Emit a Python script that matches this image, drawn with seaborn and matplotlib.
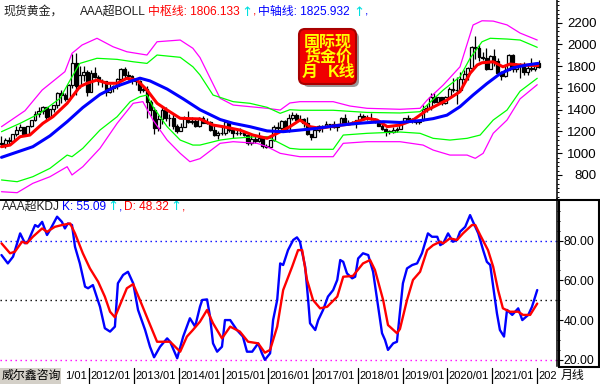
import matplotlib
matplotlib.use("Agg")
import matplotlib.pyplot as plt
import seaborn as sns
import pandas as pd
from matplotlib.transforms import IdentityTransform, blended_transform_factory, Affine2D, Bbox
from matplotlib.patches import Rectangle, FancyBboxPatch
from matplotlib.lines import Line2D

# ---------------- data: monthly spot gold, Jan 2010 (month 0) .. Jan 2022 (month 144)
opens = [1096,1081,1118,1113,1179,1212,1244,1181,1248,1307,1357,1386,
         1421,1332,1411,1439,1556,1536,1500,1628,1826,1620,1722,1746,
         1564,1738,1697,1668,1664,1561,1604,1614,1687,1773,1719,1712,
         1675,1663,1578,1595,1472,1393,1234,1313,1395,1327,1323,1253,
         1202,1244,1326,1283,1296,1250,1327,1282,1287,1209,1172,1183,
         1184,1283,1213,1183,1184,1190,1172,1095,1132,1115,1142,1065,
         1061,1118,1238,1235,1293,1215,1322,1351,1309,1316,1277,1173,
         1151,1211,1248,1249,1268,1269,1242,1269,1322,1280,1271,1275,
         1303,1345,1318,1325,1315,1299,1253,1224,1201,1192,1215,1222,
         1282,1321,1313,1292,1284,1305,1409,1413,1520,1472,1513,1464,
         1517,1589,1585,1577,1687,1730,1781,1975,1968,1886,1879,1777,
         1898,1847,1734,1708,1769,1907,1770,1814,1814,1743,1783,1774,
         1829]
highs = [1162,1140,1145,1181,1249,1265,1245,1248,1307,1388,1424,1431,
         1424,1411,1447,1566,1577,1556,1632,1913,1921,1803,1803,1764,
         1764,1791,1715,1678,1668,1640,1630,1692,1788,1796,1755,1723,
         1694,1677,1617,1616,1488,1424,1348,1434,1424,1361,1362,1267,
         1280,1345,1392,1331,1315,1332,1345,1323,1292,1256,1208,1239,
         1307,1283,1224,1224,1232,1205,1175,1170,1157,1191,1142,1088,
         1123,1263,1283,1303,1304,1362,1375,1367,1352,1324,1337,1181,
         1220,1264,1261,1295,1272,1296,1272,1331,1357,1306,1298,1307,
         1366,1361,1356,1366,1326,1309,1266,1235,1214,1243,1237,1284,
         1326,1347,1324,1310,1306,1439,1453,1555,1557,1518,1516,1523,
         1611,1689,1704,1748,1765,1789,1984,2075,1992,1933,1966,1906,
         1959,1872,1755,1798,1913,1917,1832,1833,1837,1814,1877,1831,
         1853]
lows = [1058,1045,1088,1111,1160,1201,1155,1175,1240,1300,1330,1360,
        1308,1325,1381,1420,1462,1478,1480,1604,1535,1600,1668,1523,
        1563,1688,1627,1613,1527,1556,1564,1588,1687,1693,1673,1635,
        1625,1555,1562,1321,1338,1180,1208,1271,1292,1251,1227,1187,
        1202,1238,1277,1268,1240,1240,1280,1273,1206,1161,1131,1170,
        1167,1191,1142,1170,1170,1162,1077,1080,1098,1106,1052,1046,
        1061,1110,1208,1207,1200,1199,1310,1301,1302,1241,1171,1122,
        1146,1199,1194,1241,1214,1236,1205,1265,1271,1261,1265,1236,
        1303,1307,1303,1310,1282,1251,1211,1160,1180,1182,1196,1221,
        1276,1307,1281,1266,1267,1300,1381,1400,1459,1459,1445,1455,
        1517,1563,1451,1567,1671,1671,1757,1863,1849,1860,1765,1776,
        1803,1717,1677,1705,1765,1751,1751,1688,1722,1721,1759,1753,
        1780]
closes = [1081,1118,1113,1179,1212,1244,1181,1248,1307,1357,1386,1421,
          1332,1411,1439,1556,1536,1500,1628,1826,1620,1722,1746,1564,
          1738,1697,1668,1664,1561,1604,1614,1687,1773,1719,1712,1675,
          1663,1578,1595,1472,1393,1234,1313,1395,1327,1323,1253,1202,
          1244,1326,1283,1296,1250,1327,1282,1287,1209,1172,1183,1184,
          1283,1213,1183,1184,1190,1172,1095,1132,1115,1142,1065,1061,
          1118,1238,1235,1293,1215,1322,1351,1309,1316,1277,1173,1151,
          1211,1248,1249,1268,1269,1242,1269,1322,1280,1271,1275,1303,
          1345,1318,1325,1315,1299,1253,1224,1201,1192,1215,1222,1282,
          1321,1313,1292,1284,1305,1409,1413,1520,1472,1513,1464,1517,
          1589,1585,1577,1687,1730,1781,1975,1968,1886,1879,1777,1898,
          1847,1734,1708,1769,1907,1770,1814,1814,1743,1783,1774,1829,
          1797]

# BOLL lines (month, value)
red_m = [0,2.3,5.0,7.6,11.1,13.8,17.6,21.0,22.9,25.6,28.3,31.0,33.6,36.3,39.0,41.7,44.4,47.9,53.2,56.7,
         59.4,63.9,67.4,71.2,73.9,77.3,80.0,82.7,85.4,88.9,93.4,98.0,100.7,103.4,106.8,110.3,114.1,116.8,119.4,122.9,
         125.6,127.5,128.8,131.8,134.4,136.3,139.0,143.8]
red_v = [1060,1075,1152,1167,1275,1336,1459,1612,1643,1673,1643,1643,1689,1673,1581,1459,1397,1321,1315,1259,
         1244,1213,1167,1137,1183,1244,1305,1244,1229,1250,1268,1321,1305,1244,1259,1305,1397,1443,1489,1566,
         1735,1811,1832,1841,1795,1820,1811,1806]
blue_m = [0,8.4,13.0,17.6,21.8,26.4,30.4,34.5,37.1,39.8,44.4,48.7,53.2,58.6,62.1,66.6,71.2,75.5,80.0,84.6,
          88.9,93.4,98.0,102.3,106.8,112.2,115.7,119.4,122.9,126.4,130.1,133.6,137.1,140.9,143.8]
blue_v = [962,1060,1160,1290,1420,1540,1610,1660,1690,1665,1590,1500,1400,1310,1275,1244,1205,1198,1213,1229,
          1250,1268,1281,1290,1283,1300,1318,1350,1428,1535,1640,1730,1785,1812,1826]
gu_m = [0,5.0,10.3,15.7,18.4,21.0,25.6,31.0,35.3,39.0,41.7,47.9,51.3,53.2,56.7,62.1,66.6,71.2,74.7,77.3,
        80.0,88.9,93.4,98.0,106.8,112.2,114.1,118.4,122.9,125.6,128.8,131.0,135.5,139.0,143.6]
gu_v = [1198,1275,1367,1505,1673,1826,1873,1863,1841,1826,1903,1882,1795,1720,1535,1474,1459,1422,1367,1400,
        1395,1395,1385,1375,1370,1382,1443,1581,1703,1873,2025,2057,2050,2041,1974]
gl_m = [0,4.2,8.4,13.0,17.6,18.9,21.8,26.4,31.0,34.5,37.1,39.0,40.6,44.4,47.9,51.3,53.2,58.6,62.1,68.5,
        71.2,74.7,77.3,80.0,88.9,91.6,98.0,102.3,106.8,112.2,115.7,120.2,124.8,128.3,131.8,135.5,139.0,143.6]
gl_v = [754,738,784,861,983,968,1045,1213,1336,1474,1520,1535,1428,1244,1121,1075,1075,1121,1137,1152,
        1152,1091,1045,1036,1036,1167,1183,1189,1195,1183,1137,1121,1137,1167,1305,1397,1570,1689]
mu_m = [0,6.3,10.9,17.0,18.9,21.6,25.6,29.9,33.6,39.0,41.7,47.9,51.3,53.2,58.6,62.1,66.6,71.2,74.7,77.3,
        80.0,88.9,93.4,98.0,106.8,112.2,114.1,118.4,122.9,126.4,128.8,131.8,135.5,139.0,143.6]
mu_v = [1244,1391,1581,1750,1919,1995,2057,1979,1933,1903,2025,2041,1965,1880,1505,1443,1428,1413,1397,1462,
        1474,1474,1434,1413,1404,1413,1489,1627,1795,2179,2218,2215,2180,2105,2041]
ml_m = [0,4.2,8.4,13.0,17.6,18.9,21.8,26.4,31.0,35.3,37.9,40.6,44.4,47.9,50.5,53.2,58.6,62.1,68.5,71.2,
        74.7,77.3,80.0,88.9,91.6,98.0,106.8,113.0,115.7,120.2,124.8,127.0,129.1,131.8,135.5,139.0,143.6]
ml_v = [646,637,723,784,876,800,876,1045,1275,1459,1474,1305,1121,999,922,950,1091,1106,1091,1060,
        999,983,968,968,1091,1106,1106,1075,1029,983,983,953,999,1183,1305,1500,1630]

# KDJ lines
k_m = [0,1.7,3.1,5.0,6.3,7.1,9.0,9.8,10.9,12.2,13.0,14.9,16.2,17.0,17.8,18.9,19.7,21.0,22.4,23.2,
       24.5,26.4,27.7,29.1,30.4,31.2,32.6,33.9,35.3,36.6,38.5,39.8,40.9,42.5,44.4,45.2,47.1,48.7,50.5,51.9,
       53.2,53.8,55.1,55.9,56.7,57.8,59.1,59.9,61.3,63.1,64.7,65.8,67.2,68.8,69.8,70.6,72.0,72.8,73.9,74.7,
       75.5,76.8,78.2,79.2,80.0,81.4,82.2,82.7,84.1,84.9,86.2,87.5,88.9,90.0,90.8,91.6,92.6,94.0,94.8,95.6,
       96.9,98.3,99.6,100.7,102.0,102.8,103.6,105.0,106.0,106.8,107.6,108.7,110.1,111.4,112.7,114.3,115.4,116.8,117.6,118.4,
       119.7,121.0,122.1,122.9,124.3,125.6,126.4,127.8,129.1,130.1,131.0,131.8,132.8,133.6,134.7,135.5,136.9,138.5,139.6,141.2,
       142.2,143.6]
k_v = [72.7,68.5,71.9,83.6,78.6,79.4,87.8,86.9,89.4,82.8,85.3,92.0,89.4,86.1,88.6,87.8,76.9,68.5,56.8,56.0,
       57.6,46.7,35.9,34.2,36.7,58.5,62.7,64.3,58.5,45.1,35.0,26.6,21.3,26.6,30.8,29.1,20.8,31.7,40.9,36.7,
       46.7,50.1,50.4,41.7,28.3,24.1,26.6,40.0,40.0,35.0,31.7,24.1,24.1,28.3,23.3,20.0,23.3,40.0,50.1,68.5,
       67.7,75.2,80.3,81.6,79.4,66.8,50.1,38.4,35.0,40.0,45.1,51.8,55.1,60.2,70.2,69.3,63.5,61.0,61.8,71.0,
       73.6,72.7,64.3,50.1,33.4,30.0,25.0,28.3,29.1,44.0,58.5,66.0,67.7,68.5,73.6,83.6,81.9,81.9,77.7,78.6,
       83.6,79.4,80.3,84.4,86.9,92.8,89.4,83.6,75.2,69.3,67.7,56.8,43.4,35.0,31.7,45.1,42.6,45.9,40.0,42.6,
       46.7,55.1]
d_m = [0,2.3,3.6,5.5,6.8,8.4,10.9,12.2,14.3,16.2,18.4,19.7,21.8,23.7,25.9,27.7,29.1,30.4,32.3,33.6,
       35.3,37.1,39.3,41.7,45.2,47.9,49.7,51.3,53.2,55.1,56.7,59.1,61.3,63.9,66.1,68.8,70.6,72.0,73.9,75.5,
       77.9,79.5,80.6,81.9,83.5,85.4,87.3,90.0,91.6,94.2,96.9,98.8,100.1,102.3,103.6,106.0,106.8,108.7,110.3,112.2,
       114.1,115.7,117.6,118.4,120.2,122.1,123.7,126.1,127.0,128.3,130.4,131.8,133.1,134.4,136.3,138.5,139.8,141.7,143.6]
d_v = [78.6,73.6,74.4,79.4,78.6,81.9,86.1,84.4,86.9,87.8,88.6,83.6,73.6,66.0,59.3,51.8,44.2,41.4,50.1,56.0,
       58.1,50.1,40.0,29.1,29.1,24.1,31.7,35.0,39.2,45.1,38.4,30.8,36.7,34.2,29.1,28.3,23.6,25.0,36.7,55.1,
       66.8,75.2,75.2,60.2,50.1,45.9,46.7,51.8,61.8,62.2,68.5,70.2,65.2,50.1,37.5,33.4,35.5,50.1,60.2,64.3,
       75.2,77.7,79.4,78.6,81.1,80.3,83.6,87.8,87.8,82.8,75.2,66.8,55.1,45.9,44.2,44.2,42.6,42.6,48.3]

upper_ticks = [800, 1000, 1200, 1400, 1600, 1800, 2000, 2200]
lower_ticks = [20, 40, 60, 80]
lower_labels = ["20.00", "40.00", "60.00", "80.00"]
ref_levels = [80, 50, 20]
year_months = [12, 24, 36, 48, 60, 72, 84, 96, 108, 120, 132, 144]
# the first and last labels are cut off in the chart (by the caption box / the right axis)
year_labels = ["1/01", "2012/01", "2013/01", "2014/01", "2015/01", "2016/01",
               "2017/01", "2018/01", "2019/01", "2020/01", "2021/01", "202"]
mid_value, axis_value = "1806.133", "1825.932"
k_last, d_last = "55.09", "48.32"

# ---------------- figure
sns.set_style("white")
plt.rcParams['font.family'] = ['Liberation Sans', 'Noto Sans CJK SC', 'DejaVu Sans']
W, H = 600, 384
fig = plt.figure(figsize=(6, 3.84), dpi=100)
fig.patch.set_facecolor('white')
disp = IdentityTransform()

def P(y):
    return H - y

ax1 = fig.add_axes([0, 1 - 199 / H, 557 / W, 199 / H])
ax2 = fig.add_axes([0, 1 - 366 / H, 557 / W, 167 / H])

df = pd.DataFrame({'m': range(len(closes)), 'o': opens, 'h': highs, 'l': lows, 'c': closes})
up = df[df.c >= df.o]
dn = df[df.c < df.o]
ax1.vlines(df.m, df.l, df.h, color='black', lw=0.9, zorder=2)
ax1.bar(up.m, (up.c - up.o).clip(lower=2), bottom=up.o, width=0.75,
        facecolor='white', edgecolor='black', lw=0.9, zorder=3)
ax1.bar(dn.m, dn.o - dn.c, bottom=dn.c, width=0.75,
        facecolor='black', edgecolor='black', lw=0.9, zorder=3)

def sline(ax, m, v, color, lw, z):
    sns.lineplot(x=m, y=v, ax=ax, color=color, linewidth=lw, zorder=z,
                 estimator=None, sort=False)

sline(ax1, mu_m, mu_v, '#ff00ff', 0.9, 4)
sline(ax1, ml_m, ml_v, '#ff00ff', 0.9, 4)
sline(ax1, gu_m, gu_v, '#00ff00', 0.9, 4)
sline(ax1, gl_m, gl_v, '#00ff00', 0.9, 4)
sline(ax1, red_m, red_v, '#ff0000', 2.2, 5)
sline(ax1, blue_m, blue_v, '#0000ff', 2.2, 6)

for lvl, col in zip(ref_levels, ['#0000ff', 'black', '#ff00ff']):
    ax2.axhline(lvl, color=col, lw=1.0, ls=(0, (1, 2.6)), zorder=1)
sline(ax2, k_m, k_v, '#0000ff', 1.7, 3)
sline(ax2, d_m, d_v, '#ff0000', 1.7, 4)

for ax in (ax1, ax2):
    ax.set_facecolor('none')
    for s in ('top', 'left', 'bottom'):
        ax.spines[s].set_visible(False)
    ax.spines['right'].set_linewidth(1.1)
    ax.spines['right'].set_color('black')
    ax.set_xlim(-0.4, 148.9)
    ax.set_xticks([])
    ax.set_xlabel('')
    ax.set_ylabel('')
    ax.yaxis.tick_right()

ax1.set_ylim(579, 2409)
ax1.set_yticks(upper_ticks)
ax1.set_yticklabels([str(t) for t in upper_ticks])
ax1.set_yticks(list(range(600, 2401, 40)), minor=True)
ax1.tick_params(axis='y', which='major', direction='out', length=3.6, width=0.8,
                pad=25.0, labelsize=9.5, colors='black')
ax1.tick_params(axis='y', which='minor', direction='out', length=1.2, width=0.7, colors='black')
for t in ax1.get_yticklabels():
    t.set_horizontalalignment('right')

ax2.set_ylim(16.9, 100.9)
ax2.set_yticks(lower_ticks)
ax2.set_yticklabels(lower_labels)
ax2.set_yticks([25, 30, 35, 45, 50, 55, 65, 70, 75, 85, 90, 95], minor=True)
ax2.tick_params(axis='y', which='major', direction='out', length=4.0, width=0.8,
                pad=0.8, labelsize=8.8, colors='black')
ax2.tick_params(axis='y', which='minor', direction='out', length=1.8, width=0.7, colors='black')

# panel separators / box
fig.add_artist(Line2D([0, 600], [P(199.5), P(199.5)], transform=disp, color='black', lw=1.4, zorder=5))
fig.add_artist(Rectangle((558.5, P(367)), 40.5, 167.5, transform=disp, fill=False,
                         ec='black', lw=1.5, zorder=5))

# header texts
fs = 8.6
def ftxt(x, y, s, color, ha='left', **kw):
    kw.setdefault('fontsize', fs)
    return fig.text(x, P(y), s, transform=disp, color=color,
                    ha=ha, va='center', **kw)

arrow_kw = dict(fontsize=9.5, family=['DejaVu Sans'], ha='center')
ftxt(3, 12, "现货黄金，", '#202020')
ftxt(80, 12, "AAA超BOLL", '#202020')
ftxt(148, 12, "中枢线: " + mid_value, '#ff0000')
ftxt(246.5, 12, "↑", '#00e0e0', **arrow_kw)
ftxt(252.5, 12, ",", '#ff0000')
ftxt(258, 12, "中轴线: " + axis_value, '#0000ff')
ftxt(358.5, 12, "↑", '#00e0e0', **arrow_kw)
ftxt(364.5, 12, ",", '#0000ff')

ftxt(2, 207, "AAA超KDJ", '#202020')
ftxt(62, 207, "K: " + k_last, '#0000ff')
ftxt(113, 207, "↑", '#00e0e0', **arrow_kw)
ftxt(119, 207, ",", '#0000ff')
ftxt(124, 207, "D: " + d_last, '#ff0000')
ftxt(176, 207, "↑", '#00e0e0', **arrow_kw)
ftxt(182, 207, ",", '#ff0000')

# badge
fig.add_artist(FancyBboxPatch((303, P(87)), 56, 55, boxstyle='round,pad=0,rounding_size=6',
                              transform=disp, fc='#9a9a9a', ec='none', zorder=6))
fig.add_artist(FancyBboxPatch((299, P(84)), 57, 55, boxstyle='round,pad=0,rounding_size=6',
                              transform=disp, fc='#f00000', ec='#a80000', lw=1.5, zorder=7))
bkw = dict(transform=disp, color='#ffff00', fontsize=11.5, fontweight='bold',
           ha='center', va='center', zorder=8)
fig.text(328, P(42), "国际现", **bkw)
fig.text(328, P(57), "货金价", **bkw)
fig.text(310, P(72), "月", **bkw)
fig.text(342, P(72), "K线", **bkw)

# bottom date row
blend = blended_transform_factory(ax2.transData, disp)
clip = Bbox([[0, 0], [557, H]])
for j, (m, lab) in enumerate(zip(year_months, year_labels)):
    fig.add_artist(Line2D([m - 0.5, m - 0.5], [P(384), P(368)], transform=blend,
                          color='black', lw=0.9, zorder=5))
    if j == 0:
        # left-truncated label: ends just before the next separator
        t = fig.text(year_months[1] - 0.5, P(376), lab,
                     transform=blend + Affine2D().translate(-2.5, 0),
                     color='black', fontsize=8, ha='right', va='center', zorder=5)
    else:
        t = fig.text(m - 0.5, P(376), lab, transform=blend + Affine2D().translate(1.5, 0),
                     color='black', fontsize=8, ha='left', va='center', zorder=5)
    t.set_clip_box(clip)
    t.set_clip_on(True)
fig.add_artist(Rectangle((0, 0), 61, 16, transform=disp, fc='#d4d0c8', ec='none', zorder=9))
fig.text(2, P(376), "威尔鑫咨询", transform=disp, color='black', fontsize=fs,
         ha='left', va='center', zorder=10)
fig.text(561, P(376), "月线", transform=disp, color='black', fontsize=fs,
         ha='left', va='center', zorder=10)

fig.savefig("out.png", dpi=100)
